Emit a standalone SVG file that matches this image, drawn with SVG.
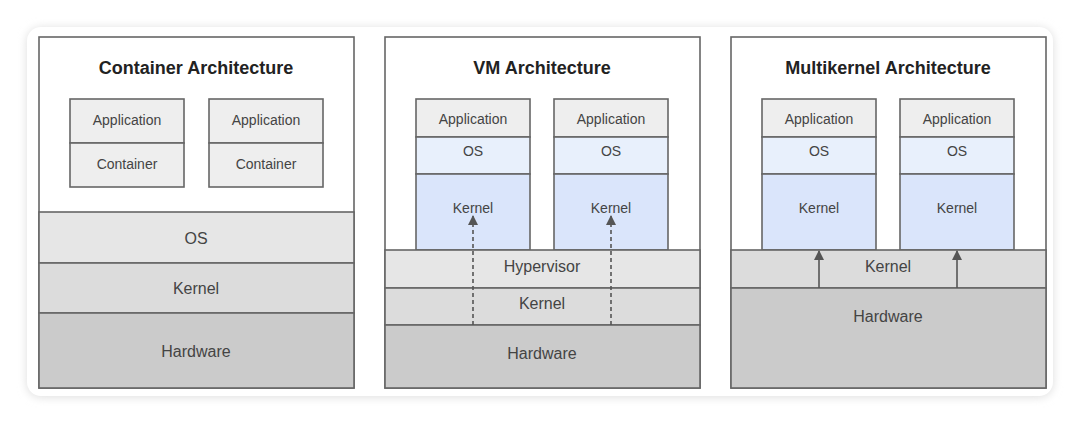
<svg xmlns="http://www.w3.org/2000/svg" width="1080" height="424" viewBox="0 0 1080 424">
<defs>
<filter id="sh" x="-5%" y="-10%" width="110%" height="120%"><feGaussianBlur stdDeviation="5"/></filter>
<marker id="ah" viewBox="0 0 10 10" refX="9" refY="5" markerWidth="10" markerHeight="10" markerUnits="userSpaceOnUse" orient="auto"><path d="M0,0 L10,5 L0,10 Z" fill="#555"/></marker>
<style>
.b{stroke:#666;stroke-width:1.6}
.t{font-family:"Liberation Sans",Arial,sans-serif;fill:#444;text-anchor:middle}
.s{font-size:14px}.m{font-size:16px}
.h{font-size:18px;font-weight:bold;fill:#222}
.app{fill:#eeeeee}.os{fill:#e6e6e6}.kr{fill:#dcdcdc}.hw{fill:#cbcbcb}
.vos{fill:#e8f0fc}.vkr{fill:#dae5fb}
</style>
</defs>
<rect width="1080" height="424" fill="#fff"/>
<rect x="27" y="28" width="1026" height="369" rx="14" fill="#ddd" filter="url(#sh)"/>
<rect x="27" y="27" width="1026" height="369" rx="14" fill="#fff"/>

<g id="container">
<rect class="b" x="39" y="37" width="315" height="351" fill="#fff"/>
<text class="t h" x="196" y="74">Container Architecture</text>
<rect class="b app" x="70" y="99" width="114" height="44"/><text class="t s" x="127" y="125">Application</text>
<rect class="b app" x="70" y="143" width="114" height="44"/><text class="t s" x="127" y="169">Container</text>
<rect class="b app" x="209" y="99" width="114" height="44"/><text class="t s" x="266" y="125">Application</text>
<rect class="b app" x="209" y="143" width="114" height="44"/><text class="t s" x="266" y="169">Container</text>
<rect class="b os" x="39" y="212" width="315" height="51"/><text class="t m" x="196" y="244">OS</text>
<rect class="b kr" x="39" y="263" width="315" height="50"/><text class="t m" x="196" y="294">Kernel</text>
<rect class="b hw" x="39" y="313" width="315" height="75"/><text class="t m" x="196" y="357">Hardware</text>
</g>

<g id="vm">
<rect class="b" x="385" y="37" width="315" height="351" fill="#fff"/>
<text class="t h" x="542" y="74">VM Architecture</text>
<rect class="b app" x="416" y="99" width="114" height="38"/><text class="t s" x="473" y="124">Application</text>
<rect class="b vos" x="416" y="137" width="114" height="37"/><text class="t s" x="473" y="156">OS</text>
<rect class="b vkr" x="416" y="174" width="114" height="76"/><text class="t s" x="473" y="213">Kernel</text>
<rect class="b app" x="554" y="99" width="114" height="38"/><text class="t s" x="611" y="124">Application</text>
<rect class="b vos" x="554" y="137" width="114" height="37"/><text class="t s" x="611" y="156">OS</text>
<rect class="b vkr" x="554" y="174" width="114" height="76"/><text class="t s" x="611" y="213">Kernel</text>
<rect class="b os" x="385" y="250" width="315" height="38"/><text class="t m" x="542" y="272">Hypervisor</text>
<rect class="b kr" x="385" y="288" width="315" height="37"/><text class="t m" x="542" y="309">Kernel</text>
<rect class="b hw" x="385" y="325" width="315" height="63"/><text class="t m" x="542" y="359">Hardware</text>
</g>

<g id="multikernel">
<rect class="b" x="731" y="37" width="315" height="351" fill="#fff"/>
<text class="t h" x="888" y="74">Multikernel Architecture</text>
<rect class="b app" x="762" y="99" width="114" height="38"/><text class="t s" x="819" y="124">Application</text>
<rect class="b vos" x="762" y="137" width="114" height="37"/><text class="t s" x="819" y="156">OS</text>
<rect class="b vkr" x="762" y="174" width="114" height="76"/><text class="t s" x="819" y="213">Kernel</text>
<rect class="b app" x="900" y="99" width="114" height="38"/><text class="t s" x="957" y="124">Application</text>
<rect class="b vos" x="900" y="137" width="114" height="37"/><text class="t s" x="957" y="156">OS</text>
<rect class="b vkr" x="900" y="174" width="114" height="76"/><text class="t s" x="957" y="213">Kernel</text>
<rect class="b kr" x="731" y="250" width="315" height="38"/><text class="t m" x="888" y="272">Kernel</text>
<rect class="b hw" x="731" y="288" width="315" height="100"/><text class="t m" x="888" y="322">Hardware</text>
</g>

<g id="connectors" stroke="#555" stroke-width="1.6" fill="none">
<line x1="473" y1="325" x2="473" y2="216" stroke-dasharray="4,3" marker-end="url(#ah)"/>
<line x1="611" y1="325" x2="611" y2="216" stroke-dasharray="4,3" marker-end="url(#ah)"/>
<line x1="819" y1="288" x2="819" y2="251" marker-end="url(#ah)"/>
<line x1="957" y1="288" x2="957" y2="251" marker-end="url(#ah)"/>
</g>
</svg>
